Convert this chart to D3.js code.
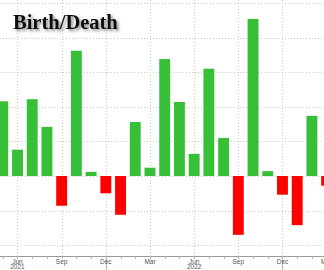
<!DOCTYPE html>
<html>
<head>
<meta charset="utf-8">
<script src="https://cdn.jsdelivr.net/npm/d3@7"></script>
<style>
  html, body { margin: 0; padding: 0; background: #fff; }
  svg { display: block; }
</style>
</head>
<body>
<div id="chart"></div>
<script>
// monthly birth/death adjustment, thousands (May 2021 .. Mar 2023)
var months = ['2021-05','2021-06','2021-07','2021-08','2021-09','2021-10','2021-11','2021-12',
  '2022-01','2022-02','2022-03','2022-04','2022-05','2022-06','2022-07','2022-08','2022-09',
  '2022-10','2022-11','2022-12','2023-01','2023-02','2023-03'];
var values = [108, 38, 111, 71, -43, 181, 6, -25, -56, 78, 12, 169, 107, 32, 155, 55, -85,
  227, 7, -27, -71, 87, -14];
var tickMonths = ['2021-06','2021-09','2021-12','2022-03','2022-06','2022-09','2022-12','2023-03'];
var tickLabels = ['Jun','Sep','Dec','Mar','Jun','Sep','Dec','Mar'];
var yearLabels = {'2021-06': '2021', '2022-06': '2022'};
var yTicks = [-100, -50, 0, 50, 100, 150, 200, 250];

var W = 324, H = 270;
var svg = d3.select('#chart').append('svg').attr('width', W).attr('height', H);

var defs = svg.append('defs');
var f = defs.append('filter').attr('id', 'shadow').attr('x', '-10%').attr('y', '-30%')
  .attr('width', '130%').attr('height', '180%');
f.append('feDropShadow').attr('dx', 2).attr('dy', 2).attr('stdDeviation', 1.6)
  .attr('flood-color', '#000').attr('flood-opacity', 0.45);

var x = d3.scaleBand().domain(months).range([-4.6, 334]).paddingInner(0.26).paddingOuter(0.13);
var y = d3.scaleLinear().domain([-100, 250]).range([245.2, 3]);
var cx = function (m) { return x(m) + x.bandwidth() / 2; };
var axisY = 256;

// grid
var grid = svg.append('g').attr('stroke', '#c8c8c8').attr('stroke-width', 1)
  .attr('stroke-dasharray', '1,2');
grid.selectAll('line.h').data(yTicks).join('line').attr('class', 'h')
  .attr('x1', 0).attr('x2', W)
  .attr('y1', function (d) { return Math.round(y(d)) + 0.5; })
  .attr('y2', function (d) { return Math.round(y(d)) + 0.5; });
grid.selectAll('line.v').data(tickMonths).join('line').attr('class', 'v')
  .attr('x1', function (d) { return Math.round(cx(d)) + 0.5; })
  .attr('x2', function (d) { return Math.round(cx(d)) + 0.5; })
  .attr('y1', 0).attr('y2', axisY);

// bars
svg.append('g').selectAll('rect').data(values).join('rect')
  .attr('x', function (d, i) { return x(months[i]); })
  .attr('width', x.bandwidth())
  .attr('y', function (d) { return y(Math.max(0, d)); })
  .attr('height', function (d) { return Math.abs(y(d) - y(0)); })
  .attr('fill', function (d) { return d >= 0 ? '#38bf38' : '#fe0000'; });

// x axis
var ax = svg.append('g').attr('transform', 'translate(0,' + axisY + ')');
ax.append('line').attr('x1', 0).attr('x2', W).attr('y1', 0.5).attr('y2', 0.5)
  .attr('stroke', '#9a9a9a');
ax.selectAll('line.minor').data(months).join('line').attr('class', 'minor')
  .attr('x1', function (d) { return Math.round(cx(d)) + 0.5; })
  .attr('x2', function (d) { return Math.round(cx(d)) + 0.5; })
  .attr('y1', 0).attr('y2', function (d) { return d.slice(5) === '12' ? 14 : 3; })
  .attr('stroke', '#b0b0b0');
ax.selectAll('text.m').data(tickMonths).join('text').attr('class', 'm')
  .attr('x', function (d) { return cx(d); }).attr('y', 7.5)
  .attr('text-anchor', 'middle').attr('font-family', 'Liberation Sans, Arial, sans-serif')
  .attr('font-size', 6.5).attr('fill', '#555')
  .text(function (d, i) { return tickLabels[i]; });
ax.selectAll('text.yr').data(tickMonths.filter(function (d) { return yearLabels[d]; }))
  .join('text').attr('class', 'yr')
  .attr('x', function (d) { return cx(d); }).attr('y', 13)
  .attr('text-anchor', 'middle').attr('font-family', 'Liberation Sans, Arial, sans-serif')
  .attr('font-size', 6.5).attr('fill', '#555')
  .text(function (d) { return yearLabels[d]; });

// title
svg.append('text').attr('x', 13).attr('y', 28.5)
  .attr('font-family', 'Liberation Serif, Times New Roman, serif')
  .attr('font-weight', 'bold').attr('font-size', 20.5).attr('fill', '#111')
  .attr('filter', 'url(#shadow)')
  .text('Birth/Death');
</script>
</body>
</html>
